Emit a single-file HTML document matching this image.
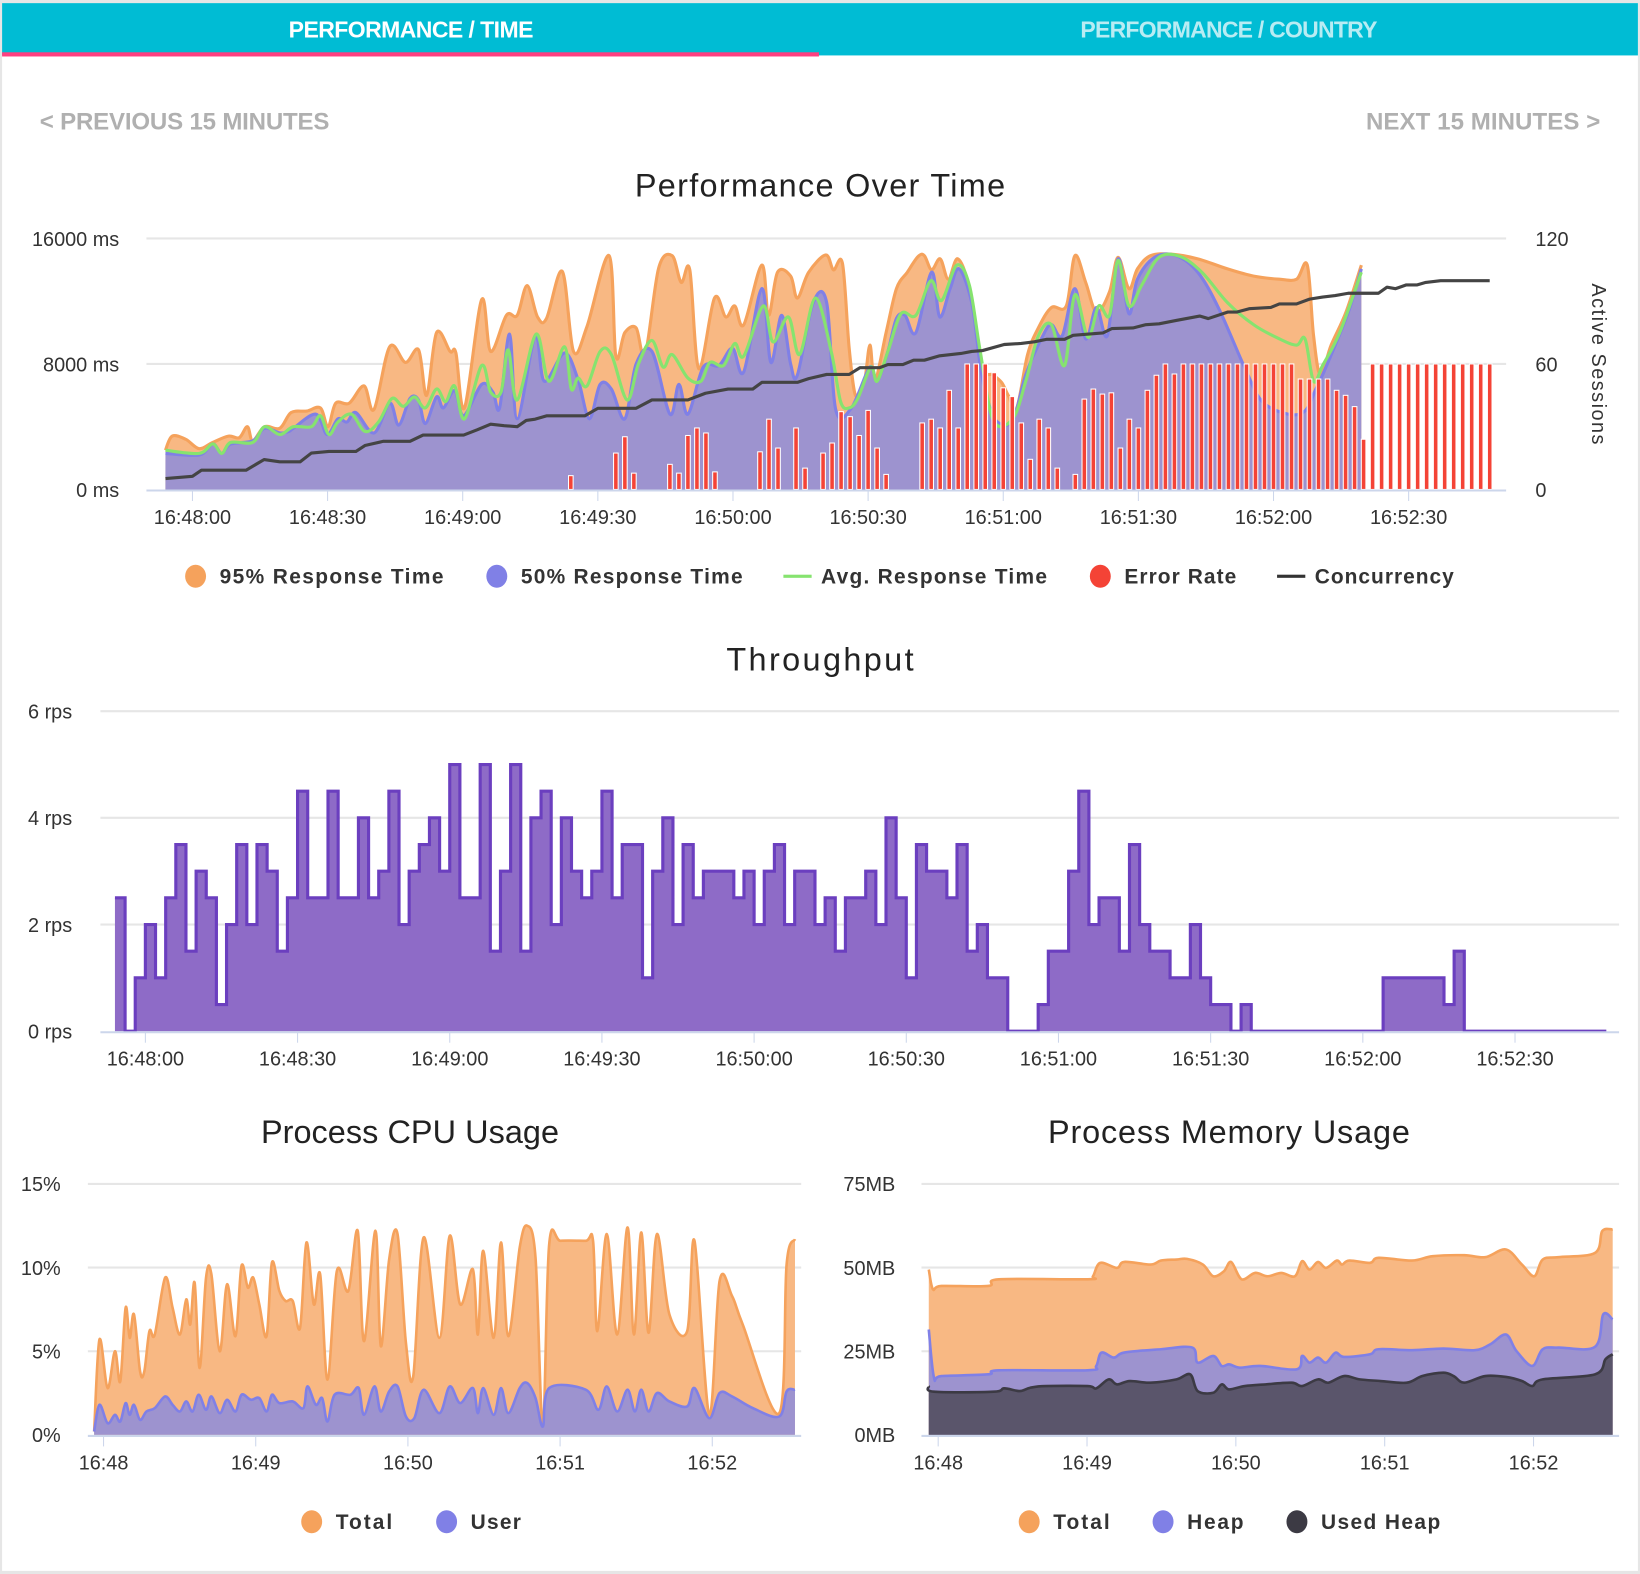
<!DOCTYPE html>
<html><head><meta charset="utf-8"><style>
html,body{margin:0;padding:0;background:#fff;}
svg{display:block;font-family:"Liberation Sans",sans-serif;}
.tick{font-size:19px;fill:#333;}
.leg{font-size:20px;font-weight:bold;fill:#333;}
.title{font-size:31px;fill:#222;}
</style></head><body>
<svg id="root" width="1640" height="1574" viewBox="0 0 1568 1505" preserveAspectRatio="none" xmlns="http://www.w3.org/2000/svg">
<rect x="0" y="0" width="1568" height="1505" fill="#e6e6e6"/>
<rect x="2" y="3" width="1564" height="1499" fill="#fff"/>
<rect x="2" y="3" width="1564" height="50" fill="#00BCD4"/>
<rect x="2" y="50" width="781" height="4" fill="#FF4081"/>
<text x="393" y="36" text-anchor="middle" font-size="22" font-weight="bold" fill="#fff" textLength="234">PERFORMANCE / TIME</text>
<text x="1175" y="36" text-anchor="middle" font-size="22" font-weight="bold" fill="rgba(255,255,255,0.72)" textLength="284">PERFORMANCE / COUNTRY</text>
<text x="38" y="124" font-size="23" font-weight="bold" fill="#b0b0b0" textLength="277">&lt; PREVIOUS 15 MINUTES</text>
<text x="1530" y="124" text-anchor="end" font-size="23" font-weight="bold" fill="#b0b0b0" textLength="224">NEXT 15 MINUTES &gt;</text>

<text class="title" x="784" y="188" text-anchor="middle" textLength="354">Performance Over Time</text>
<g id="c1"></g>
<text class="title" x="784" y="641" text-anchor="middle" textLength="179">Throughput</text>
<g id="c2"></g>
<text class="title" x="392" y="1093" text-anchor="middle" textLength="285">Process CPU Usage</text>
<g id="c3"></g>
<text class="title" x="1175" y="1093" text-anchor="middle" textLength="346">Process Memory Usage</text>
<g id="c4"></g>
</svg>
<script>
// ---------- Performance Over Time data (t = seconds from 16:48:00, values in thousand ms) ----------
const perfTickLabels = ["16:48:00","16:48:30","16:49:00","16:49:30","16:50:00","16:50:30","16:51:00","16:51:30","16:52:00","16:52:30"];
const perfYLabels = ["0 ms","8000 ms","16000 ms"];
const perfYRightLabels = ["0","60","120"];
const p95T = [-6,-4.5,-1.5,1.5,4.5,8,10.4,12.2,13.4,16,19.4,21.9,25.4,28.4,30.1,31.8,34.8,38.1,40.3,43.8,47.3,50.2,52,54.2,57.2,58.5,60.4,64.2,66.2,69.7,72.1,74.3,76.6,78.6,82.1,84.6,87.6,92.5,94,96,98.5,100.5,103.5,106.5,108.5,110.4,112.4,115.9,118.4,120.4,122.4,126.4,127.9,129.9,132.8,134.3,136.8,140.6,142.3,144.3,145.8,147.2,149.1,150.4,151.5,154,156.3,158.7,161.1,162.5,164.1,166,167.8,169.9,172.5,175.4,177.8,179.7,181.1,183,185.4,187.8,190.7,194,195.9,198.3,200.7,203.6,205.5,207.9,209.8,212.7,217.4,223.2,229.8,235.6,241.3,245.1,247.5,248.9,250.4,252.8,256.1,259.5];
const p95V = [2.5,3.4,3.2,2.6,3.0,3.4,3.3,4.0,3.1,4.0,3.9,4.9,5.0,5.2,4.0,5.5,5.5,6.6,5.1,9.1,8.1,8.9,6.0,10.0,8.8,8.7,5.2,12.1,8.8,11.1,11.1,13.0,11.0,10.9,13.9,8.8,10.4,14.9,8.5,10.0,10.3,8.6,14.1,14.9,13.2,14.0,7.7,12.2,11.0,11.7,10.5,14.3,11.1,13.85,13.6,12.2,13.85,14.95,14.0,14.4,9.0,6.0,6.7,9.2,6.9,10.0,12.8,13.85,14.85,14.9,14.0,14.7,13.4,14.7,12.8,7.9,7.3,6.8,6.0,5.2,8.6,10.3,11.6,11.7,14.9,13.2,11.3,12.6,14.8,12.8,14.06,14.9,15.0,14.7,14.06,13.6,13.4,13.4,14.3,9.8,7.3,9.2,11.3,14.3];
const p50T = [-6,1.5,4.5,6.5,8.5,13.4,16,19.4,21.4,22.4,27.4,29.9,32.3,34.3,36.3,40.3,43.8,45.8,48.3,50.2,51.7,54.2,55.7,58.2,60.2,64.2,66.7,68.2,70.4,72.1,76.1,78.1,82.6,85.6,88.1,90.5,93,96,98.5,102,106,108,110,113.4,116.9,119.9,122.4,126.4,128.4,130.8,132.8,134.3,137.8,140.8,142.8,146.3,150.4,152,154.4,156.3,158.2,160.6,164.1,165.9,168.2,170.2,173,174.9,176.4,178.7,182.1,185,188.8,190.7,193.1,195.9,198.3,200.7,203.1,205.5,207.9,209.8,213.6,218.4,223.2,227.9,233.7,237.5,243.2,247,249.4,251.8,256.6,259.5];
const p50V = [2.3,2.2,2.9,2.3,2.9,3.1,3.9,3.6,3.7,3.9,4.8,3.5,4.5,4.3,4.9,3.6,5.5,4.1,5.8,5.7,4.2,5.9,5.2,6.3,4.7,6.7,6.2,5.2,9.9,4.5,9.8,6.9,8.7,7.0,4.5,6.7,6.4,4.5,8.0,8.8,4.8,6.7,4.8,7.8,7.9,9.0,7.5,12.8,8.1,11.1,8.0,7.3,11.9,11.9,5.1,5.2,7.8,6.9,8.8,10.9,11.1,10.0,13.85,11.0,12.8,14.06,11.9,7.9,5.8,4.3,4.4,7.3,9.8,10.5,9.8,12.8,9.6,11.6,9.8,14.7,11.2,13.4,14.8,14.9,13.85,11.5,7.7,5.6,4.8,5.0,6.4,7.9,11.3,14.06];
const avgT = [-6,1.5,4.5,6.5,8.5,13.4,16,19.4,22.4,26.4,28.4,30.3,32.3,35.3,38.3,41.3,44.3,46.8,49.3,51.7,54.2,56.2,58.2,60.4,64.2,66.2,68.5,70.1,72.1,76.3,79.1,82.6,84.1,85.6,87.6,90.5,93,96.5,99,102,104.5,106.5,110,112.9,114.9,117.9,120.4,122.4,126.7,128.9,132.3,134.8,138.3,141.8,143.9,145.8,147.7,150.6,152,154.4,157.3,160.6,163.9,166.3,169.7,172.5,174.9,177.8,182.1,185,187.8,190.7,193.6,195.9,198.8,201.2,203.6,205.5,207.9,210.7,214.6,219.3,224.1,229.8,235.6,241.3,245.1,247,248.9,250.9,254.7,259.5];
const avgV = [2.5,2.3,2.9,2.3,3.0,3.0,4.0,3.5,4.0,4.0,4.7,3.5,4.3,4.8,3.7,4.3,5.8,5.3,5.9,5.2,6.4,5.6,6.6,4.5,7.9,6.2,6.2,8.9,5.7,9.9,6.9,9.1,6.4,7.1,6.6,8.8,8.6,5.7,8.0,9.5,7.8,8.6,7.1,6.9,8.1,7.9,9.3,8.5,11.7,9.4,11.0,8.6,12.2,8.8,5.6,5.2,5.8,7.8,6.9,8.8,11.2,11.1,13.3,12.05,14.3,13.0,8.8,4.4,4.5,6.9,9.8,10.5,7.9,12.4,9.7,11.7,11.1,14.6,11.7,13.0,14.8,14.85,13.85,11.9,10.5,9.6,9.2,9.6,6.9,7.9,10.0,13.85];
const concT = [-6,0,2,11.9,15.9,19.4,23.9,26.4,30.3,36.3,38.3,42.3,48.3,51.2,60.2,63.2,66.2,69.2,72.1,74.1,76.1,78.6,87.1,90,98.5,102,110,113.9,118.9,124.4,126.4,134.3,136.8,140.8,145.8,148.2,152.5,154.4,157.7,160.1,162.5,165.9,170.6,173,175.4,180.2,184,186.9,189.7,193.6,195.5,202.1,204.1,208.8,211.7,214.6,218.4,223.6,225.5,229.8,231.8,234.6,239.4,241.3,245.1,248,250.9,253.7,256.6,263.3,265.2,267.1,269.5,271.9,273.8,277.1,288];
const concV = [5.2,6.3,9.2,9.2,14.3,13.2,13.2,17.4,18.2,18.2,21,23,23,26,26,28.5,31.2,30.5,30,33,33.6,35.2,35.2,38.8,38.8,42.8,42.8,46,48,48,51.2,51.2,53,55,55,58.2,58.2,59.7,59.7,61.8,61.8,63.9,65,66,66.4,69.3,69.8,70.6,71.8,71.8,73.7,74.8,76.9,77.2,78.8,79.2,80.8,82.9,81.7,84.8,84.8,86.4,87,88.7,88.7,91,92,92.7,93.8,93.8,96.7,96,97.8,97.8,99,99.8,99.8];
const errStart = 84;
const errStep = 2;
const errV = [11,0,0,0,0,29,42,13,0,0,0,20,13,43,49,45,14,0,0,0,0,30,56,33,0,49,17,0,29,37,62,58,43,63,33,12,0,0,0,53,56,49,79,49,100,100,100,93,81,74,53,24,56,49,17,0,12,72,80,76,77,33,56,49,79,91,100,92,100,100,100,100,100,100,100,100,100,100,100,100,100,88,88,88,88,79,75,66,40,100,100,100,100,100,100,100,100,100,100,100,100,100,100];

// ---------- Throughput data (2-second buckets from t=-6) ----------
const tpTickLabels = ["16:48:00","16:48:30","16:49:00","16:49:30","16:50:00","16:50:30","16:51:00","16:51:30","16:52:00","16:52:30"];
const tpYLabels = ["0 rps","2 rps","4 rps","6 rps"];
const tpStart = -6;
const tpStep = 2;
const tpV = [2.5,0,1,2,1,2.5,3.5,1.5,3,2.5,0.5,2,3.5,2,3.5,3,1.5,2.5,4.5,2.5,2.5,4.5,2.5,2.5,4,2.5,3,4.5,2,3,3.5,4,3,5,2.5,2.5,5,1.5,3,5,1.5,4,4.5,2,4,3,2.5,3,4.5,2.5,3.5,3.5,1,3,4,2,3.5,2.5,3,3,3,2.5,3,2,3,3.5,2,3,3,2,2.5,1.5,2.5,2.5,3,2,4,2.5,1,3.5,3,3,2.5,3.5,1.5,2,1,1,0,0,0,0.5,1.5,1.5,3,4.5,2,2.5,2.5,1.5,3.5,2,1.5,1.5,1,1,2,1,0.5,0.5,0,0.5,0,0,0,0,0,0,0,0,0,0,0,0,0,1,1,1,1,1,1,0.5,1.5,0,0,0,0,0,0,0,0,0,0,0,0,0,0];

// ---------- CPU data (t seconds from 16:48, %) ----------
const cpuTickLabels = ["16:48","16:49","16:50","16:51","16:52"];
const cpuYLabels = ["0%","5%","10%","15%"];
const cpuTotT = [-3.7,-1.6,1.6,4.5,6.6,8.7,10.3,12,14.4,16.1,18.1,20.2,24.3,27.2,30.1,32.6,34.2,35.9,37.9,40.4,42.5,45.8,48.7,52,54.4,56.9,59,61.4,64.3,66.4,69.3,71.8,74.6,77.5,80,82.9,85.4,88.3,92,96.5,100.2,102.7,107.2,109.3,112.6,115.9,119.2,122.1,126.2,132.4,136.5,140.6,145.6,147.6,149.7,153.8,156.7,159.6,164.1,167,170.3,173.2,175.7,180.2,190.1,193,194.7,198.4,202.5,206.6,209.1,212,214.9,218.2,223.1,230.1,233,238.8,242.9,247.8,252,266.4,269.3,272.6];
const cpuTotV = [0.2,5.7,2.8,5.0,3.2,7.6,5.8,7.2,3.8,3.8,6.2,6.0,9.4,7.6,6.0,8.1,6.6,9.1,4.0,9.4,9.6,5.0,9.0,5.9,10.1,8.8,9.4,7.8,5.9,10.3,8.6,8.0,8.0,6.4,11.5,7.8,9.6,3.3,9.8,8.6,12.2,5.6,12.2,5.3,10.5,12.0,5.5,3.5,11.8,5.8,11.9,7.8,9.9,6.0,11.0,5.8,11.5,5.9,11.2,12.5,10.6,0.5,11.4,11.6,11.6,11.6,6.2,12.0,6.0,12.4,6.0,12.1,6.1,12.0,7.2,6.2,11.6,1.2,9.2,8.3,6.6,1.3,10.2,11.7];
const cpuUsrT = [-3.7,-1.6,1.6,4.5,6.6,8.7,10.3,12,14.4,16.9,20.2,24.3,27.2,30.1,32.6,35.1,37.5,40.4,42.5,45.8,48.7,52,54.4,58.1,61.4,64.3,66.4,69.3,74.6,78.8,80.4,83.7,86.2,88.3,91.1,97.3,100.6,102.7,106.8,109.3,112.6,115.9,119.2,122.5,126.2,132.4,136.5,140.6,145.6,147.6,149.7,153.8,156.7,159.6,164.1,167,170.3,173.2,175.7,190.1,195.1,198.4,202.5,206.6,209.5,212,214.9,218.2,223.1,230.1,233,238.8,242.9,247.8,256,266.4,269.3,272.6];
const cpuUsrV = [0.2,1.8,0.7,1.2,0.8,1.9,1.2,1.8,0.9,1.4,1.6,2.3,1.8,1.4,2.0,1.4,2.4,1.5,2.3,1.3,2.1,1.4,2.4,2.1,2.2,1.4,2.4,1.9,2.0,1.6,2.9,1.8,2.2,0.8,2.4,2.4,2.8,1.2,2.9,1.4,2.6,2.9,1.1,1.0,2.7,1.3,2.9,1.9,2.8,1.3,2.8,1.2,2.8,1.3,2.8,3.1,2.2,0.5,2.8,2.7,1.5,2.9,1.4,2.7,1.4,2.7,1.4,2.5,2.0,1.7,2.8,1.0,2.5,2.3,1.6,1.1,2.6,2.7];

// ---------- Memory data (t seconds from 16:48, MB) ----------
const memTickLabels = ["16:48","16:49","16:50","16:51","16:52"];
const memYLabels = ["0MB","25MB","50MB","75MB"];
const memTotT = [-3.8,-2.1,1.3,20.2,24.5,60.3,62.4,65.3,72.1,75,85.6,89.8,96.1,100.3,106.7,110.9,115.2,118.1,122.3,127.7,132.8,138.3,143.8,146.7,149.7,153.1,156.4,160.7,162.8,165.7,174.1,177.5,191,199.4,212.1,220.5,228.9,235.3,240.3,243.7,250,264.8,267.7,271.9];
const memTotV = [49.4,43.5,44.5,44.5,46.5,46.5,47.4,51.4,49.9,51.7,50.9,52.1,52.4,52.6,50.9,47.4,48.9,51.7,46.5,48.4,47.4,48.4,47.4,51.9,49.4,51.7,49.9,52.1,50.9,52.1,51.4,52.9,52.1,53.4,53.7,53.1,55.4,50.9,47.4,52.4,53.1,54.4,60.9,61.4];
const heapT = [-3.8,-1.7,1.3,20.2,24.5,60.3,63.7,65.8,70.8,75,89.8,102.4,104.6,110.9,114.3,117.3,121.5,129.9,144.6,146.7,149.7,153.1,156.4,160.2,163.6,174.1,177.5,191,203.6,216.3,222.6,228.9,233.1,239.5,243.7,250,264.8,268.1,271.9];
const heapV = [31.5,17.1,17.6,18.1,19.3,19.3,20.6,24.6,23.1,24.6,25.6,26.1,21.6,23.6,20.6,21.1,20.1,20.6,19.6,23.6,21.6,23.1,21.6,24.6,23.3,24.1,25.6,25.3,25.8,25.3,27.1,30.0,25.1,20.6,25.6,26.1,26.3,36.0,34.5];
const usedT = [-3.8,-1.7,22.3,26.6,32.9,37.1,43.4,60.3,63.7,68.7,72.1,77.2,85.6,96.1,101.6,104.6,110.9,114.3,117.3,123.6,132,142.5,146.7,153.1,157.3,163.6,169.9,178.3,188.9,195.2,203.6,207.8,212.1,220.5,228.9,235.3,239.5,243.7,264.8,269,271.9];
const usedV = [14.6,12.9,12.9,13.9,13.1,14.1,14.6,14.6,13.9,16.6,15.1,16.1,15.6,16.6,18.1,13.1,12.6,15.1,13.6,14.6,15.1,15.6,14.6,16.6,15.6,17.6,16.6,16.1,15.6,17.6,18.6,17.6,15.6,17.6,17.3,16.1,14.6,16.6,18.1,22.6,24.1];

// ---------- helpers ----------
const NS = "http://www.w3.org/2000/svg";
function mk(parent, tag, attrs){
  const e = document.createElementNS(NS, tag);
  for (const k in attrs) e.setAttribute(k, attrs[k]);
  parent.appendChild(e);
  return e;
}
function spline(pts){
  let d = "M" + pts[0][0].toFixed(1) + "," + pts[0][1].toFixed(1);
  for (let i = 0; i < pts.length - 1; i++){
    const p0 = pts[Math.max(0, i-1)], p1 = pts[i], p2 = pts[i+1], p3 = pts[Math.min(pts.length-1, i+2)];
    const c1x = p1[0] + (p2[0]-p0[0])/6, c1y = p1[1] + (p2[1]-p0[1])/6;
    const c2x = p2[0] - (p3[0]-p1[0])/6, c2y = p2[1] - (p3[1]-p1[1])/6;
    d += " C" + c1x.toFixed(1) + "," + c1y.toFixed(1) + " " + c2x.toFixed(1) + "," + c2y.toFixed(1) + " " + p2[0].toFixed(1) + "," + p2[1].toFixed(1);
  }
  return d;
}
function pts(T, V, xf, yf){
  const n = Math.min(T.length, V.length), out = [];
  for (let i = 0; i < n; i++) out.push([xf(T[i]), yf(V[i])]);
  return out;
}
function areaSeries(g, T, V, xf, yf, base, fill, stroke, sw, name){
  const p = pts(T, V, xf, yf);
  const line = spline(p);
  const a = mk(g, "path", {d: line + " L" + p[p.length-1][0] + "," + base + " L" + p[0][0] + "," + base + " Z", fill: fill, stroke: "none"});
  
  
  const l = mk(g, "path", {d: line, fill: "none", stroke: stroke, "stroke-width": sw, "stroke-linejoin": "round"});
  
  
}
function label(g, x, y, txt, anchor, cls, name){
  const t = mk(g, "text", {x: x, y: y, "text-anchor": anchor, class: cls});
  t.textContent = txt;
  
  
  return t;
}
function legendDot(g, x, y, color, txt, w, name){
  const c = mk(g, "ellipse", {cx: x, cy: y, rx: 10, ry: 11, fill: color});
  
  
  const t = label(g, x + 23, y + 7, txt, "start", "leg", name);
  t.setAttribute('textLength', w);
  
}
function legendLine(g, x, y, color, txt, w, name){
  const c = mk(g, "rect", {x: x, y: y - 1.5, width: 27, height: 3, fill: color});
  
  
  const t = label(g, x + 36, y + 7, txt, "start", "leg", name);
  t.setAttribute('textLength', w);
  
}
function grid(g, x1, x2, y, name){
  const l = mk(g, "line", {x1: x1, x2: x2, y1: y, y2: y, stroke: "#e6e6e6", "stroke-width": 2});
  
  
}
function xAxis(g, x1, x2, y, name){
  const l = mk(g, "line", {x1: x1, x2: x2, y1: y, y2: y, stroke: "#ccd6eb", "stroke-width": 2});
  
  
}
function tickMark(g, x, y){
  const l = mk(g, "line", {x1: x, x2: x, y1: y, y2: y + 10, stroke: "#ccd6eb", "stroke-width": 1});
  
  
}

// ---------- Chart 1: Performance Over Time ----------
(function(){
  const g = document.getElementById("c1");
  const x = t => 184 + t * 129.2 / 30;
  const y = k => 468 - k / 16 * 240;
  const yR = s => 468 - s / 120 * 240;
  perfYLabels.forEach((s, i) => {
    const v = i * 8;
    if (i > 0) grid(g, 140, 1440, y(v), 'y-gridline');
    label(g, 114, y(v) + 7, s, "end", "tick", 'y-axis-label');
  });
  perfYRightLabels.forEach((s, i) => label(g, 1468, yR(i * 60) + 7, s, "start", "tick", 'y-right-axis-label'));
  const rt = label(g, 0, 0, "Active Sessions", "middle", "tick", 'y-right-axis-title');
  rt.setAttribute("transform", "translate(1522,348) rotate(90)");
  rt.setAttribute("font-size", "21");
  rt.setAttribute("textLength", "154");
  areaSeries(g, p95T, p95V, x, y, 468, "#F8B883", "#F5A25C", 3, 'p95-response-time');
  areaSeries(g, p50T, p50V, x, y, 468, "#9D93CF", "#8080E6", 3, 'p50-response-time');
  const ap = spline(pts(avgT, avgV, x, y));
  const al = mk(g, "path", {d: ap, fill: "none", stroke: "#86E36F", "stroke-width": 3});
  
  
  errV.forEach((v, i) => {
    if (v <= 0) return;
    const t = errStart + i * errStep;
    const h = yR(0) - yR(v * 0.6);
    const r = mk(g, "rect", {x: x(t) - 2.2, y: 468 - h, width: 4.4, height: h, fill: "#F44336", stroke: "#fff", "stroke-width": 1});
    
    
  });
  const cp = pts(concT, concV, x, yR).map(p => p[0].toFixed(1) + "," + p[1].toFixed(1)).join(" ");
  const cl = mk(g, "polyline", {points: cp, fill: "none", stroke: "#444", "stroke-width": 3, "stroke-linejoin": "round"});
  
  
  xAxis(g, 140, 1440, 469, 'x-axis-line');
  perfTickLabels.forEach((s, i) => {
    tickMark(g, x(i * 30), 469);
    label(g, x(i * 30), 501, s, "middle", "tick", 'x-axis-label');
  });
  legendDot(g, 187, 551, "#F5A25C", "95% Response Time", 214, 'legend-p95');
  legendDot(g, 475, 551, "#8080E6", "50% Response Time", 212, 'legend-p50');
  legendLine(g, 749, 551, "#86E36F", "Avg. Response Time", 216, 'legend-avg');
  legendDot(g, 1052, 551, "#F44336", "Error Rate", 107, 'legend-error-rate');
  legendLine(g, 1221, 551, "#333", "Concurrency", 133, 'legend-concurrency');
})();

// ---------- Chart 2: Throughput ----------
(function(){
  const g = document.getElementById("c2");
  const x = t => 139 + t * 145.5 / 30;
  const y = v => 986 - v * 51;
  tpYLabels.forEach((s, i) => {
    const v = i * 2;
    if (i > 0) grid(g, 96, 1548, y(v), 'y-gridline');
    label(g, 69, y(v) + 7, s, "end", "tick", 'y-axis-label');
  });
  let d = "";
  tpV.forEach((v, i) => {
    const t0 = tpStart + i * tpStep, t1 = t0 + tpStep;
    d += (i === 0 ? "M" : " L") + x(t0).toFixed(1) + "," + y(v).toFixed(1) + " L" + x(t1).toFixed(1) + "," + y(v).toFixed(1);
  });
  const xEnd = x(tpStart + tpV.length * tpStep), xStart = x(tpStart);
  const a = mk(g, "path", {d: d + " L" + xEnd + ",986 L" + xStart + ",986 Z", fill: "#8E6BC7"});
  
  
  const l = mk(g, "path", {d: d, fill: "none", stroke: "#6B3FBF", "stroke-width": 3});
  
  
  xAxis(g, 96, 1548, 987, 'x-axis-line');
  tpTickLabels.forEach((s, i) => {
    tickMark(g, x(i * 30), 987);
    label(g, x(i * 30), 1019, s, "middle", "tick", 'x-axis-label');
  });
})();

// ---------- Chart 3: CPU ----------
(function(){
  const g = document.getElementById("c3");
  const x = t => 99 + t * 145.5 / 60;
  const y = p => 1372 - p * 16;
  cpuYLabels.forEach((s, i) => {
    const v = i * 5;
    if (i > 0) grid(g, 84, 766, y(v), 'y-gridline');
    label(g, 58, y(v) + 7, s, "end", "tick", 'y-axis-label');
  });
  areaSeries(g, cpuTotT, cpuTotV, x, y, 1372, "#F8B883", "#F5A25C", 2.5, 'cpu-total');
  areaSeries(g, cpuUsrT, cpuUsrV, x, y, 1372, "#9D93CF", "#8080E6", 2.5, 'cpu-user');
  xAxis(g, 84, 766, 1373, 'x-axis-line');
  cpuTickLabels.forEach((s, i) => {
    tickMark(g, x(i * 60), 1373);
    label(g, x(i * 60), 1405, s, "middle", "tick", 'x-axis-label');
  });
  legendDot(g, 298, 1455, "#F5A25C", "Total", 54, 'legend-cpu-total');
  legendDot(g, 427, 1455, "#8080E6", "User", 48, 'legend-cpu-user');
})();

// ---------- Chart 4: Memory ----------
(function(){
  const g = document.getElementById("c4");
  const x = t => 897 + t * 142.3 / 60;
  const y = m => 1372 - m * 3.2;
  memYLabels.forEach((s, i) => {
    const v = i * 25;
    if (i > 0) grid(g, 881, 1548, y(v), 'y-gridline');
    label(g, 856, y(v) + 7, s, "end", "tick", 'y-axis-label');
  });
  areaSeries(g, memTotT, memTotV, x, y, 1372, "#F8B883", "#F5A25C", 2.5, 'memory-total');
  areaSeries(g, heapT, heapV, x, y, 1372, "#9D93CF", "#8080E6", 2.5, 'memory-heap');
  areaSeries(g, usedT, usedV, x, y, 1372, "#5A556B", "#3C3A44", 2.5, 'memory-used-heap');
  xAxis(g, 881, 1548, 1373, 'x-axis-line');
  memTickLabels.forEach((s, i) => {
    tickMark(g, x(i * 60), 1373);
    label(g, x(i * 60), 1405, s, "middle", "tick", 'x-axis-label');
  });
  legendDot(g, 984, 1455, "#F5A25C", "Total", 54, 'legend-memory-total');
  legendDot(g, 1112, 1455, "#8080E6", "Heap", 54, 'legend-memory-heap');
  legendDot(g, 1240, 1455, "#3C3A44", "Used Heap", 114, 'legend-memory-used-heap');
})();
</script>
</body></html>
